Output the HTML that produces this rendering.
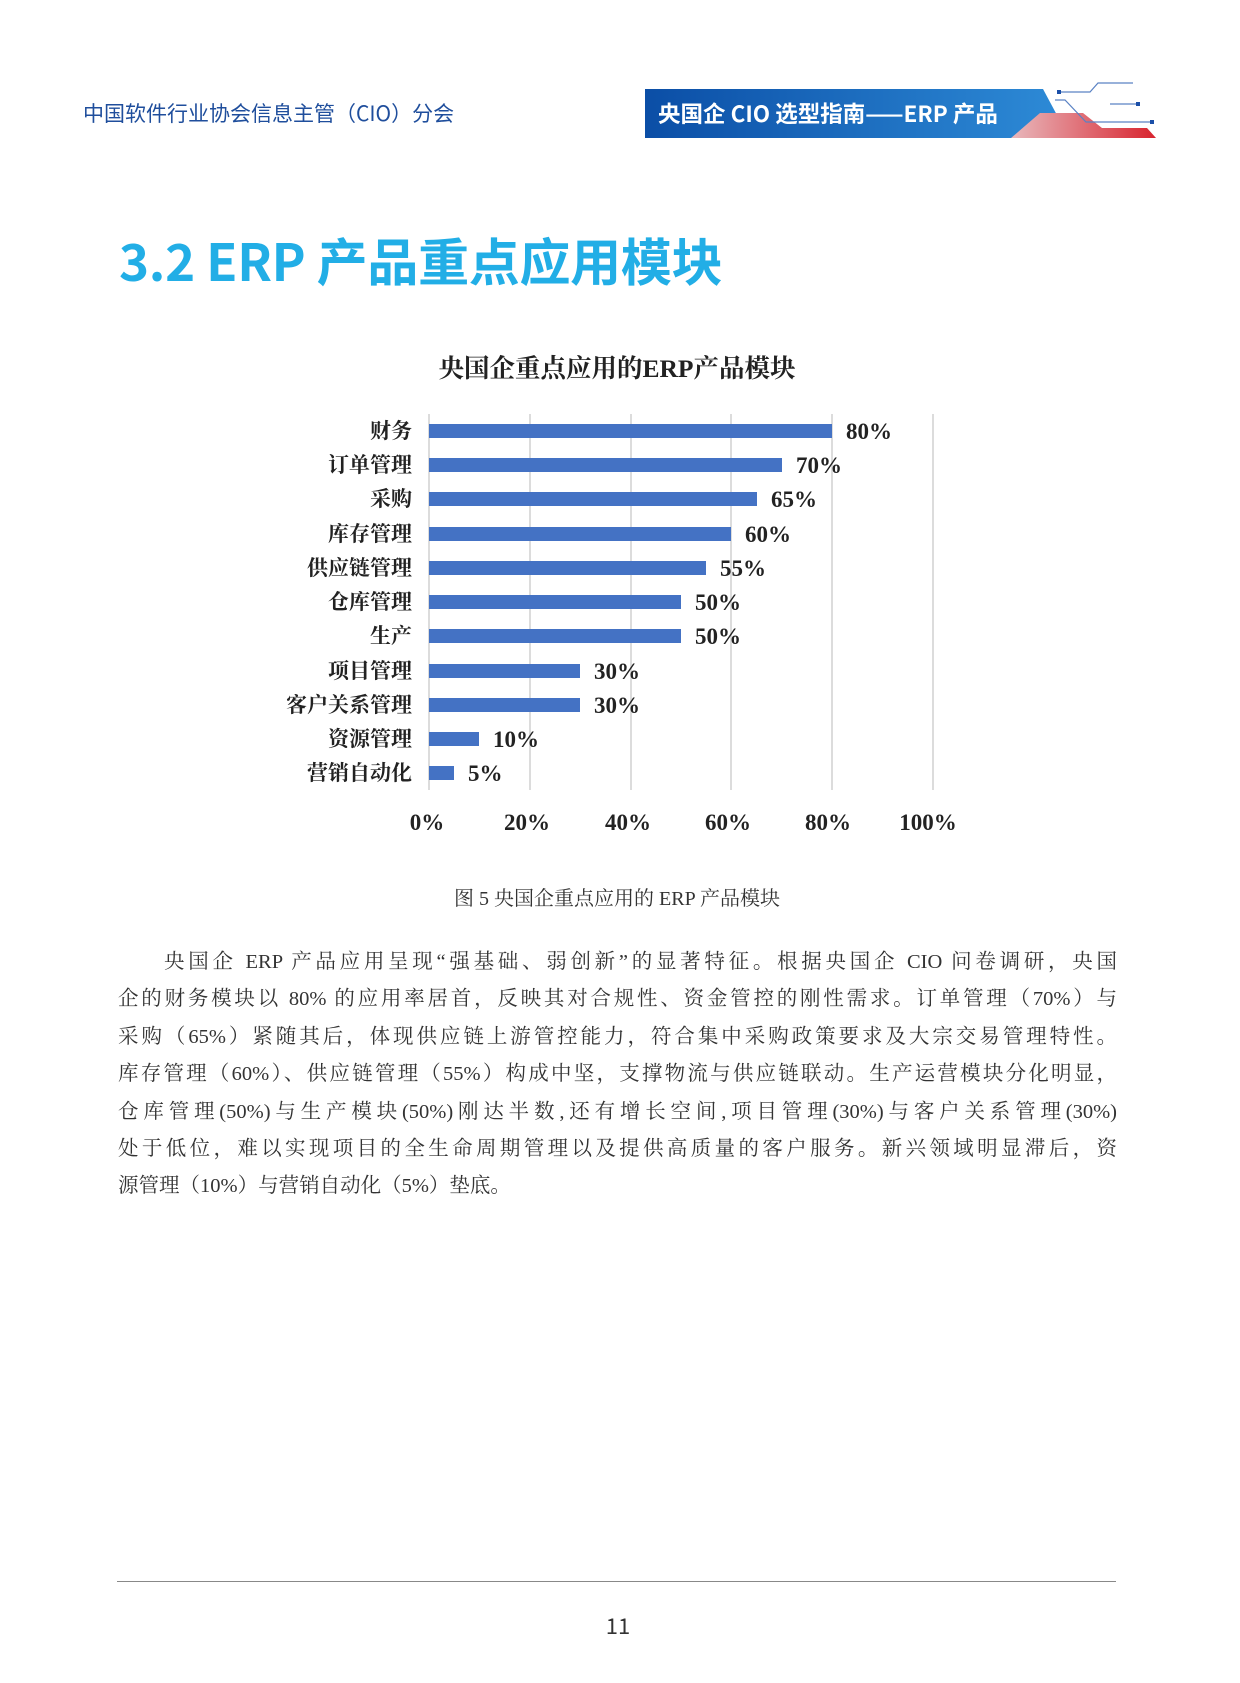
<!DOCTYPE html>
<html><head><meta charset="utf-8">
<style>
html,body{margin:0;padding:0;background:#fff;}
body{width:1240px;height:1683px;position:relative;overflow:hidden;}
.abs{position:absolute;white-space:nowrap;}
.hdr{left:83px;top:101px;font-family:"Noto Sans CJK SC","Liberation Sans",sans-serif;font-size:21px;line-height:25px;color:#1f4e9c;}
.title{left:119px;top:234px;font-family:"Noto Sans CJK SC","Liberation Sans",sans-serif;font-weight:bold;font-size:51px;line-height:1;color:#22aee6;letter-spacing:-0.3px;}
.ct{left:0;width:1234px;text-align:center;top:349px;font-family:"Liberation Serif","Noto Serif CJK SC",serif;font-weight:bold;font-size:25.5px;color:#222;}
.cap{left:0;width:1234px;text-align:center;top:882px;font-family:"Liberation Serif","Noto Serif CJK SC",serif;font-size:20px;color:#333;}
.para{position:absolute;left:118px;top:944px;width:999px;font-family:"Liberation Serif","Noto Serif CJK SC",serif;font-size:20.5px;color:#333;line-height:37.4px;}
.para div{text-align:justify;text-align-last:justify;white-space:nowrap;}
.para div.last{text-align-last:left;}
.pn{left:0;width:1236px;text-align:center;top:1612px;font-family:"Noto Sans CJK SC","Liberation Sans",sans-serif;font-size:22px;line-height:26px;color:#333;}
</style></head><body>
<div class="abs hdr">中国软件行业协会信息主管（CIO）分会</div>

<svg class="abs" style="left:0;top:0" width="1240" height="160">
<defs>
<linearGradient id="bg" x1="0" x2="1"><stop offset="0" stop-color="#0b4ea6"/><stop offset="1" stop-color="#2d8ad6"/></linearGradient>
<linearGradient id="rg" x1="0" x2="1"><stop offset="0" stop-color="#e8b8bc"/><stop offset="1" stop-color="#d8232e"/></linearGradient>
</defs>
<polygon points="645,89 1043,89 1058,117 1031,138 645,138" fill="url(#bg)"/>
<polygon points="1011,138 1040,113 1083,113 1102,128 1147,128 1156,138" fill="url(#rg)"/>
<g stroke="#5a82c4" stroke-width="1.2" fill="none">
<polyline points="1060,92 1090,92 1098,83 1133,83"/>
<line x1="1110" y1="104" x2="1140" y2="104"/>
<polyline points="1055,100 1065,100 1086,122 1150,122"/>
</g>
<rect x="1057" y="90" width="4" height="4" fill="#1b4fa8"/>
<rect x="1136" y="102" width="4" height="4" fill="#1b4fa8"/>
<rect x="1150" y="120" width="4" height="4" fill="#1b4fa8"/>
<text x="658" y="122" font-family="Noto Sans CJK SC,Liberation Sans,sans-serif" font-weight="bold" font-size="22.5" fill="#fff">央国企 CIO 选型指南——ERP 产品</text>
</svg>

<div class="abs title">3.2 ERP 产品重点应用模块</div>
<div class="abs ct">央国企重点应用的ERP产品模块</div>

<svg class="abs" style="left:0;top:0" width="1240" height="860">
<g stroke="#dcdcdc" stroke-width="2">
<line x1="429" y1="414" x2="429" y2="790"/><line x1="530" y1="414" x2="530" y2="790"/>
<line x1="631" y1="414" x2="631" y2="790"/><line x1="731" y1="414" x2="731" y2="790"/>
<line x1="832" y1="414" x2="832" y2="790"/><line x1="933" y1="414" x2="933" y2="790"/>
</g>
<g fill="#4472c4">
<rect x="429" y="424" width="403" height="14"/>
<rect x="429" y="458" width="353" height="14"/>
<rect x="429" y="492" width="328" height="14"/>
<rect x="429" y="527" width="302" height="14"/>
<rect x="429" y="561" width="277" height="14"/>
<rect x="429" y="595" width="252" height="14"/>
<rect x="429" y="629" width="252" height="14"/>
<rect x="429" y="664" width="151" height="14"/>
<rect x="429" y="698" width="151" height="14"/>
<rect x="429" y="732" width="50" height="14"/>
<rect x="429" y="766" width="25" height="14"/>
</g>
<g font-family="Liberation Serif,Noto Serif CJK SC,serif" font-weight="bold" font-size="21" fill="#222">
<g text-anchor="end">
<text x="412" y="438">财务</text><text x="412" y="472">订单管理</text><text x="412" y="506">采购</text>
<text x="412" y="541">库存管理</text><text x="412" y="575">供应链管理</text><text x="412" y="609">仓库管理</text>
<text x="412" y="643">生产</text><text x="412" y="678">项目管理</text><text x="412" y="712">客户关系管理</text>
<text x="412" y="746">资源管理</text><text x="412" y="780">营销自动化</text>
</g>
<g font-size="23">
<text x="846" y="439">80%</text><text x="796" y="473">70%</text><text x="771" y="507">65%</text>
<text x="745" y="542">60%</text><text x="720" y="576">55%</text><text x="695" y="610">50%</text>
<text x="695" y="644">50%</text><text x="594" y="679">30%</text><text x="594" y="713">30%</text>
<text x="493" y="747">10%</text><text x="468" y="781">5%</text>
</g>
<g font-size="23" text-anchor="middle">
<text x="427" y="830">0%</text><text x="527" y="830">20%</text><text x="628" y="830">40%</text>
<text x="728" y="830">60%</text><text x="828" y="830">80%</text><text x="928" y="830">100%</text>
</g>
</g>
</svg>

<div class="abs cap">图 5 央国企重点应用的 ERP 产品模块</div>

<div class="para">
<div style="padding-left:46px">央国企 ERP 产品应用呈现“强基础、弱创新”的显著特征。根据央国企 CIO 问卷调研，央国</div>
<div>企的财务模块以 80% 的应用率居首，反映其对合规性、资金管控的刚性需求。订单管理（70%）与</div>
<div>采购（65%）紧随其后，体现供应链上游管控能力，符合集中采购政策要求及大宗交易管理特性。</div>
<div>库存管理（60%）、供应链管理（55%）构成中坚，支撑物流与供应链联动。生产运营模块分化明显，</div>
<div>仓库管理(50%)与生产模块(50%)刚达半数,还有增长空间,项目管理(30%)与客户关系管理(30%)</div>
<div>处于低位，难以实现项目的全生命周期管理以及提供高质量的客户服务。新兴领域明显滞后，资</div>
<div class="last">源管理（10%）与营销自动化（5%）垫底。</div>
</div>

<div class="abs" style="left:117px;top:1581px;width:999px;height:1px;background:#888"></div>
<div class="abs pn">11</div>
</body></html>
